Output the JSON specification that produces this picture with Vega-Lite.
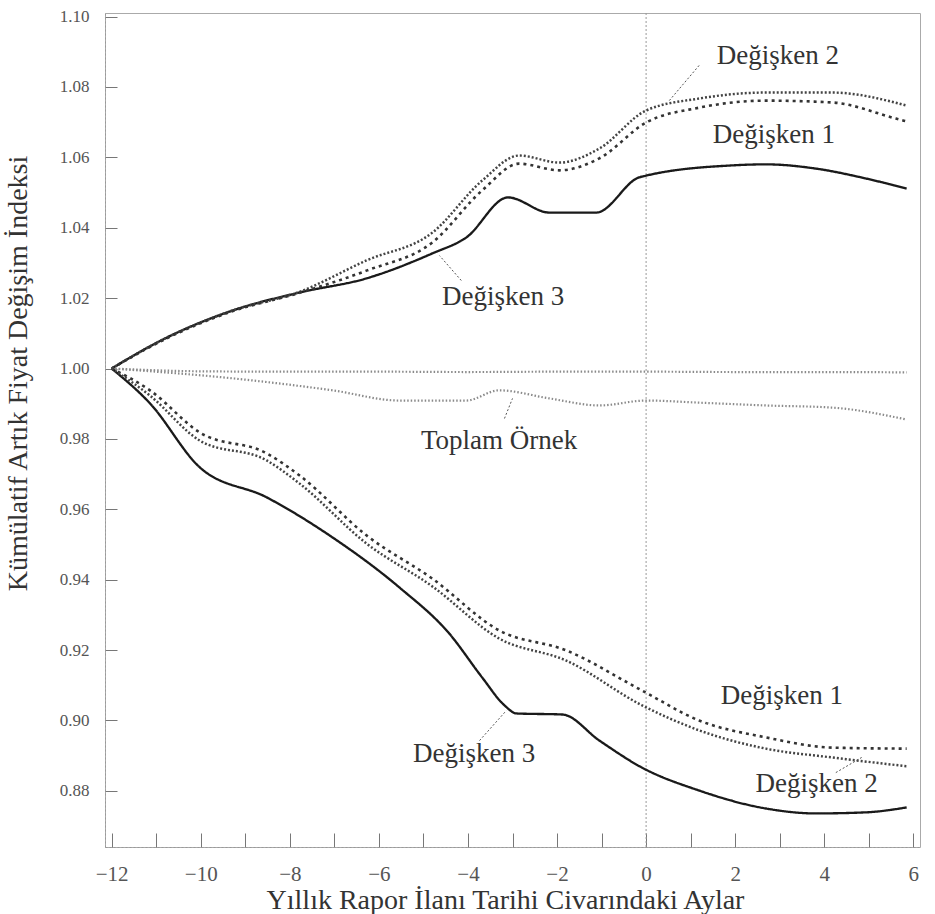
{
  "$schema": "https://vega.github.io/schema/vega-lite/v6.json",
  "width": 815,
  "height": 834,
  "autosize": {"type": "none"},
  "padding": {"left": 105, "top": 13, "right": 15, "bottom": 67},
  "background": "white",
  "config": {
    "font": "Liberation Serif",
    "view": {"stroke": "#aaa", "strokeWidth": 1},
    "axis": {"grid": false, "labelFont": "Liberation Serif", "titleFont": "Liberation Serif", "titleFontWeight": "normal", "domainColor": "#999", "domainDash": [2, 2], "tickColor": "#777", "labelColor": "#555", "titleColor": "#333"}
  },
  "datasets": {
    "seriler": [
      {"seri": "Değişken 3", "grup": "Yukarı", "ay": -12, "indeks": 1.0},
      {"seri": "Değişken 3", "grup": "Yukarı", "ay": -10.76, "indeks": 1.0088},
      {"seri": "Değişken 3", "grup": "Yukarı", "ay": -9.28, "indeks": 1.0165},
      {"seri": "Değişken 3", "grup": "Yukarı", "ay": -7.78, "indeks": 1.0216},
      {"seri": "Değişken 3", "grup": "Yukarı", "ay": -6.28, "indeks": 1.0256},
      {"seri": "Değişken 3", "grup": "Yukarı", "ay": -4.8, "indeks": 1.0327},
      {"seri": "Değişken 3", "grup": "Yukarı", "ay": -4.04, "indeks": 1.0372},
      {"seri": "Değişken 3", "grup": "Yukarı", "ay": -3.1, "indeks": 1.0486},
      {"seri": "Değişken 3", "grup": "Yukarı", "ay": -2.17, "indeks": 1.0443},
      {"seri": "Değişken 3", "grup": "Yukarı", "ay": -1.12, "indeks": 1.0443},
      {"seri": "Değişken 3", "grup": "Yukarı", "ay": -0.16, "indeks": 1.0543},
      {"seri": "Değişken 3", "grup": "Yukarı", "ay": 0, "indeks": 1.0548},
      {"seri": "Değişken 3", "grup": "Yukarı", "ay": 1.93, "indeks": 1.0577},
      {"seri": "Değişken 3", "grup": "Yukarı", "ay": 2.69, "indeks": 1.058},
      {"seri": "Değişken 3", "grup": "Yukarı", "ay": 3.81, "indeks": 1.0568},
      {"seri": "Değişken 3", "grup": "Yukarı", "ay": 4.93, "indeks": 1.054},
      {"seri": "Değişken 3", "grup": "Yukarı", "ay": 5.85, "indeks": 1.0511},

      {"seri": "Değişken 2", "grup": "Yukarı", "ay": -12, "indeks": 1.0},
      {"seri": "Değişken 2", "grup": "Yukarı", "ay": -10.76, "indeks": 1.0088},
      {"seri": "Değişken 2", "grup": "Yukarı", "ay": -9.28, "indeks": 1.0165},
      {"seri": "Değişken 2", "grup": "Yukarı", "ay": -7.78, "indeks": 1.0218},
      {"seri": "Değişken 2", "grup": "Yukarı", "ay": -6.28, "indeks": 1.0307},
      {"seri": "Değişken 2", "grup": "Yukarı", "ay": -4.8, "indeks": 1.0386},
      {"seri": "Değişken 2", "grup": "Yukarı", "ay": -3.68, "indeks": 1.0534},
      {"seri": "Değişken 2", "grup": "Yukarı", "ay": -2.85, "indeks": 1.0605},
      {"seri": "Değişken 2", "grup": "Yukarı", "ay": -1.95, "indeks": 1.0585},
      {"seri": "Değişken 2", "grup": "Yukarı", "ay": -1.05, "indeks": 1.0625},
      {"seri": "Değişken 2", "grup": "Yukarı", "ay": 0, "indeks": 1.0733},
      {"seri": "Değişken 2", "grup": "Yukarı", "ay": 1.19, "indeks": 1.0767},
      {"seri": "Değişken 2", "grup": "Yukarı", "ay": 2.69, "indeks": 1.0784},
      {"seri": "Değişken 2", "grup": "Yukarı", "ay": 4.17, "indeks": 1.0784},
      {"seri": "Değişken 2", "grup": "Yukarı", "ay": 5.85, "indeks": 1.0747},

      {"seri": "Değişken 1", "grup": "Yukarı", "ay": -12, "indeks": 1.0},
      {"seri": "Değişken 1", "grup": "Yukarı", "ay": -10.76, "indeks": 1.0086},
      {"seri": "Değişken 1", "grup": "Yukarı", "ay": -9.28, "indeks": 1.0163},
      {"seri": "Değişken 1", "grup": "Yukarı", "ay": -7.78, "indeks": 1.0215},
      {"seri": "Değişken 1", "grup": "Yukarı", "ay": -6.28, "indeks": 1.0278},
      {"seri": "Değişken 1", "grup": "Yukarı", "ay": -4.8, "indeks": 1.0358},
      {"seri": "Değişken 1", "grup": "Yukarı", "ay": -3.68, "indeks": 1.0506},
      {"seri": "Değişken 1", "grup": "Yukarı", "ay": -2.85, "indeks": 1.0582},
      {"seri": "Değişken 1", "grup": "Yukarı", "ay": -1.95, "indeks": 1.0563},
      {"seri": "Değişken 1", "grup": "Yukarı", "ay": -1.05, "indeks": 1.0597},
      {"seri": "Değişken 1", "grup": "Yukarı", "ay": 0, "indeks": 1.0699},
      {"seri": "Değişken 1", "grup": "Yukarı", "ay": 1.19, "indeks": 1.0741},
      {"seri": "Değişken 1", "grup": "Yukarı", "ay": 2.69, "indeks": 1.0761},
      {"seri": "Değişken 1", "grup": "Yukarı", "ay": 4.17, "indeks": 1.0756},
      {"seri": "Değişken 1", "grup": "Yukarı", "ay": 5.61, "indeks": 1.071},
      {"seri": "Değişken 1", "grup": "Yukarı", "ay": 5.85, "indeks": 1.0702},

      {"seri": "Toplam Örnek", "grup": "Yukarı", "ay": -12, "indeks": 1.0},
      {"seri": "Toplam Örnek", "grup": "Yukarı", "ay": -10, "indeks": 0.9992},
      {"seri": "Toplam Örnek", "grup": "Yukarı", "ay": -8, "indeks": 0.9991},
      {"seri": "Toplam Örnek", "grup": "Yukarı", "ay": -6, "indeks": 0.9991},
      {"seri": "Toplam Örnek", "grup": "Yukarı", "ay": -4, "indeks": 0.999},
      {"seri": "Toplam Örnek", "grup": "Yukarı", "ay": -2, "indeks": 0.9991},
      {"seri": "Toplam Örnek", "grup": "Yukarı", "ay": 0, "indeks": 0.9991},
      {"seri": "Toplam Örnek", "grup": "Yukarı", "ay": 2, "indeks": 0.999},
      {"seri": "Toplam Örnek", "grup": "Yukarı", "ay": 4, "indeks": 0.999},
      {"seri": "Toplam Örnek", "grup": "Yukarı", "ay": 5.85, "indeks": 0.9989},

      {"seri": "Toplam Örnek", "grup": "Aşağı", "ay": -12, "indeks": 1.0},
      {"seri": "Toplam Örnek", "grup": "Aşağı", "ay": -9.28, "indeks": 0.9972},
      {"seri": "Toplam Örnek", "grup": "Aşağı", "ay": -7.04, "indeks": 0.9938},
      {"seri": "Toplam Örnek", "grup": "Aşağı", "ay": -5.54, "indeks": 0.9909},
      {"seri": "Toplam Örnek", "grup": "Aşağı", "ay": -4.04, "indeks": 0.9909},
      {"seri": "Toplam Örnek", "grup": "Aşağı", "ay": -3.3, "indeks": 0.9938},
      {"seri": "Toplam Örnek", "grup": "Aşağı", "ay": -2.17, "indeks": 0.9915},
      {"seri": "Toplam Örnek", "grup": "Aşağı", "ay": -1.05, "indeks": 0.9895},
      {"seri": "Toplam Örnek", "grup": "Aşağı", "ay": 0, "indeks": 0.9909},
      {"seri": "Toplam Örnek", "grup": "Aşağı", "ay": 1.19, "indeks": 0.9903},
      {"seri": "Toplam Örnek", "grup": "Aşağı", "ay": 2.69, "indeks": 0.9895},
      {"seri": "Toplam Örnek", "grup": "Aşağı", "ay": 4.17, "indeks": 0.9889},
      {"seri": "Toplam Örnek", "grup": "Aşağı", "ay": 5.85, "indeks": 0.9855},

      {"seri": "Değişken 3", "grup": "Aşağı", "ay": -12, "indeks": 1.0},
      {"seri": "Değişken 3", "grup": "Aşağı", "ay": -11.14, "indeks": 0.9901},
      {"seri": "Değişken 3", "grup": "Aşağı", "ay": -10.02, "indeks": 0.9719},
      {"seri": "Değişken 3", "grup": "Aşağı", "ay": -8.52, "indeks": 0.9634},
      {"seri": "Değişken 3", "grup": "Aşağı", "ay": -7.04, "indeks": 0.952},
      {"seri": "Değişken 3", "grup": "Aşağı", "ay": -5.54, "indeks": 0.9378},
      {"seri": "Değişken 3", "grup": "Aşağı", "ay": -4.42, "indeks": 0.9247},
      {"seri": "Değişken 3", "grup": "Aşağı", "ay": -3.68, "indeks": 0.9122},
      {"seri": "Değişken 3", "grup": "Aşağı", "ay": -3.18, "indeks": 0.9043},
      {"seri": "Değişken 3", "grup": "Aşağı", "ay": -2.91, "indeks": 0.902},
      {"seri": "Değişken 3", "grup": "Aşağı", "ay": -1.88, "indeks": 0.9017},
      {"seri": "Değişken 3", "grup": "Aşağı", "ay": -1.05, "indeks": 0.8943},
      {"seri": "Değişken 3", "grup": "Aşağı", "ay": -0.09, "indeks": 0.8866},
      {"seri": "Değişken 3", "grup": "Aşağı", "ay": 1.19, "indeks": 0.8801},
      {"seri": "Değişken 3", "grup": "Aşağı", "ay": 2.69, "indeks": 0.875},
      {"seri": "Değişken 3", "grup": "Aşağı", "ay": 3.81, "indeks": 0.8736},
      {"seri": "Değişken 3", "grup": "Aşağı", "ay": 4.93, "indeks": 0.8739},
      {"seri": "Değişken 3", "grup": "Aşağı", "ay": 5.85, "indeks": 0.8753},

      {"seri": "Değişken 1", "grup": "Aşağı", "ay": -12, "indeks": 1.0},
      {"seri": "Değişken 1", "grup": "Aşağı", "ay": -11.14, "indeks": 0.9938},
      {"seri": "Değişken 1", "grup": "Aşağı", "ay": -10.02, "indeks": 0.9818},
      {"seri": "Değişken 1", "grup": "Aşağı", "ay": -8.52, "indeks": 0.9759},
      {"seri": "Değişken 1", "grup": "Aşağı", "ay": -7.78, "indeks": 0.9696},
      {"seri": "Değişken 1", "grup": "Aşağı", "ay": -6.28, "indeks": 0.9526},
      {"seri": "Değişken 1", "grup": "Aşağı", "ay": -4.8, "indeks": 0.9403},
      {"seri": "Değişken 1", "grup": "Aşağı", "ay": -3.3, "indeks": 0.9256},
      {"seri": "Değişken 1", "grup": "Aşağı", "ay": -1.79, "indeks": 0.9199},
      {"seri": "Değişken 1", "grup": "Aşağı", "ay": -0.09, "indeks": 0.9085},
      {"seri": "Değişken 1", "grup": "Aşağı", "ay": 1.19, "indeks": 0.9},
      {"seri": "Değişken 1", "grup": "Aşağı", "ay": 2.69, "indeks": 0.8952},
      {"seri": "Değişken 1", "grup": "Aşağı", "ay": 4.17, "indeks": 0.8923},
      {"seri": "Değişken 1", "grup": "Aşağı", "ay": 5.85, "indeks": 0.892},

      {"seri": "Değişken 2", "grup": "Aşağı", "ay": -12, "indeks": 1.0},
      {"seri": "Değişken 2", "grup": "Aşağı", "ay": -11.14, "indeks": 0.9923},
      {"seri": "Değişken 2", "grup": "Aşağı", "ay": -10.02, "indeks": 0.9795},
      {"seri": "Değişken 2", "grup": "Aşağı", "ay": -8.52, "indeks": 0.9739},
      {"seri": "Değişken 2", "grup": "Aşağı", "ay": -7.78, "indeks": 0.9673},
      {"seri": "Değişken 2", "grup": "Aşağı", "ay": -6.28, "indeks": 0.9503},
      {"seri": "Değişken 2", "grup": "Aşağı", "ay": -4.8, "indeks": 0.9381},
      {"seri": "Değişken 2", "grup": "Aşağı", "ay": -3.3, "indeks": 0.9233},
      {"seri": "Değişken 2", "grup": "Aşağı", "ay": -1.79, "indeks": 0.917},
      {"seri": "Değişken 2", "grup": "Aşağı", "ay": -0.09, "indeks": 0.9043},
      {"seri": "Değişken 2", "grup": "Aşağı", "ay": 1.19, "indeks": 0.8972},
      {"seri": "Değişken 2", "grup": "Aşağı", "ay": 2.69, "indeks": 0.892},
      {"seri": "Değişken 2", "grup": "Aşağı", "ay": 4.17, "indeks": 0.8895},
      {"seri": "Değişken 2", "grup": "Aşağı", "ay": 5.85, "indeks": 0.887}
    ],
    "etiketler": [
      {"etiket": "Değişken 2", "ay": 2.96, "indeks": 1.0889},
      {"etiket": "Değişken 1", "ay": 2.87, "indeks": 1.0662},
      {"etiket": "Değişken 3", "ay": -3.21, "indeks": 1.0202},
      {"etiket": "Toplam Örnek", "ay": -3.3, "indeks": 0.9793},
      {"etiket": "Değişken 3", "ay": -3.86, "indeks": 0.8906},
      {"etiket": "Değişken 1", "ay": 3.05, "indeks": 0.9071},
      {"etiket": "Değişken 2", "ay": 3.83, "indeks": 0.8821}
    ],
    "oklar": [
      {"ay": 1.19, "indeks": 1.0861, "ay2": 0.52, "indeks2": 1.0761},
      {"ay": -4.15, "indeks": 1.025, "ay2": -4.64, "indeks2": 1.0321},
      {"ay": -3.18, "indeks": 0.9858, "ay2": -3.0, "indeks2": 0.9915},
      {"ay": -3.74, "indeks": 0.8943, "ay2": -3.14, "indeks2": 0.9028},
      {"ay": 4.26, "indeks": 0.8852, "ay2": 4.84, "indeks2": 0.8895}
    ],
    "sifir": [{"ay": 0}]
  },
  "layer": [
    {
      "data": {"name": "sifir"},
      "mark": {"type": "rule", "color": "#999", "strokeDash": [2, 2], "strokeWidth": 1},
      "encoding": {
        "x": {"field": "ay", "type": "quantitative"}
      }
    },
    {
      "data": {"name": "seriler"},
      "mark": {"type": "line", "interpolate": "monotone"},
      "encoding": {
        "x": {
          "field": "ay", "type": "quantitative",
          "scale": {"domain": [-12.15, 6.15], "nice": false, "zero": false},
          "axis": {
            "title": "Yıllık Rapor İlanı Tarihi Civarındaki Aylar",
            "values": [-12, -11, -10, -9, -8, -7, -6, -5, -4, -3, -2, -1, 0, 1, 2, 3, 4, 5, 6],
            "labelExpr": "datum.value % 2 == 0 ? datum.label : ''",
            "tickSize": -14, "labelPadding": 30, "labelFontSize": 21,
            "labelFlush": false,
            "titleFontSize": 28, "titleX": 400, "titleY": 53, "titleBaseline": "middle"
          }
        },
        "y": {
          "field": "indeks", "type": "quantitative",
          "scale": {"domain": [0.86406, 1.101], "nice": false, "zero": false},
          "axis": {
            "title": "Kümülatif Artık Fiyat Değişim İndeksi",
            "values": [0.88, 0.9, 0.92, 0.94, 0.96, 0.98, 1.0, 1.02, 1.04, 1.06, 1.08, 1.1],
            "format": ".2f",
            "tickSize": -12, "labelPadding": 28, "labelFontSize": 17,
            "titleFontSize": 28, "titleX": -87, "titleY": 360, "titleAngle": 270,
            "titleBaseline": "middle", "titleAlign": "center"
          }
        },
        "detail": {"field": "grup", "type": "nominal"},
        "color": {
          "field": "seri", "type": "nominal", "legend": null,
          "scale": {"domain": ["Değişken 1", "Değişken 2", "Değişken 3", "Toplam Örnek"], "range": ["#333333", "#444444", "#1a1a1a", "#8a8a8a"]}
        },
        "strokeDash": {
          "field": "seri", "type": "nominal", "legend": null,
          "scale": {"domain": ["Değişken 1", "Değişken 2", "Değişken 3", "Toplam Örnek"], "range": [[3, 4], [2, 2], [1, 0], [1.5, 2]]}
        },
        "strokeWidth": {
          "field": "seri", "type": "nominal", "legend": null,
          "scale": {"domain": ["Değişken 1", "Değişken 2", "Değişken 3", "Toplam Örnek"], "range": [2.6, 2.2, 2.2, 1.2]}
        }
      }
    },
    {
      "data": {"name": "oklar"},
      "mark": {"type": "rule", "color": "#555", "strokeDash": [2, 2], "strokeWidth": 1},
      "encoding": {
        "x": {"field": "ay", "type": "quantitative"},
        "y": {"field": "indeks", "type": "quantitative"},
        "x2": {"field": "ay2"},
        "y2": {"field": "indeks2"}
      }
    },
    {
      "data": {"name": "etiketler"},
      "mark": {"type": "text", "font": "Liberation Serif", "fontSize": 27, "color": "#333", "baseline": "middle", "align": "center"},
      "encoding": {
        "x": {"field": "ay", "type": "quantitative"},
        "y": {"field": "indeks", "type": "quantitative"},
        "text": {"field": "etiket", "type": "nominal"}
      }
    }
  ]
}
